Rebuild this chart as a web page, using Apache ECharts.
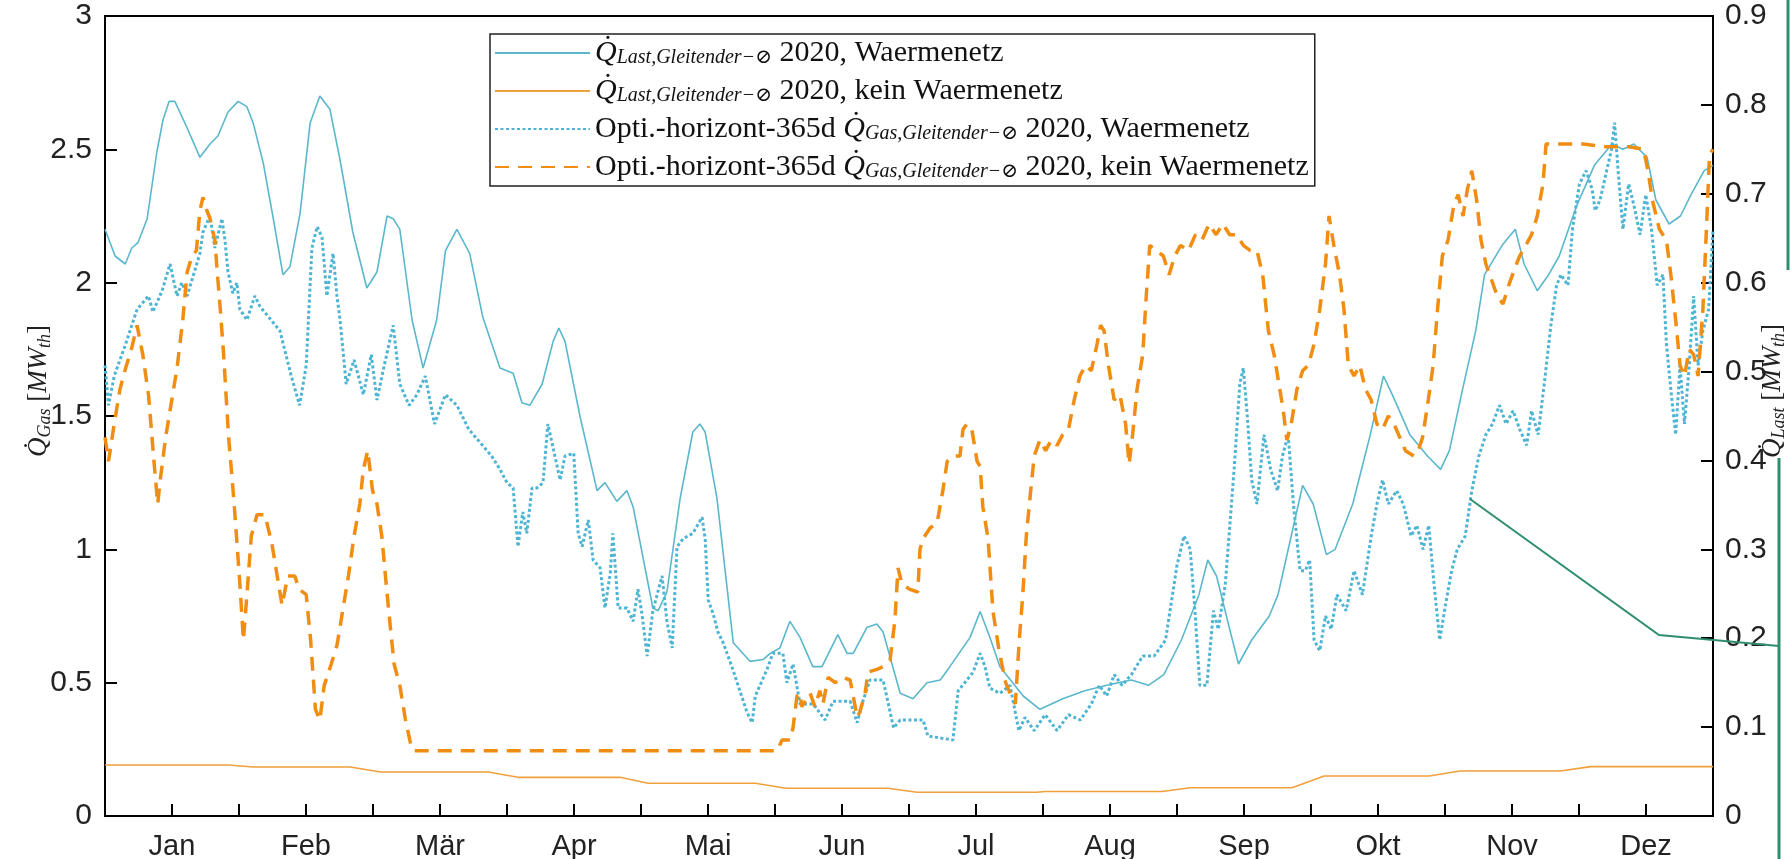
<!DOCTYPE html>
<html>
<head>
<meta charset="utf-8">
<script src="https://cdn.jsdelivr.net/npm/echarts@6/dist/echarts.min.js"></script>
<style>
  html, body { margin: 0; padding: 0; background: #fff; }
  #chart { width: 1792px; height: 859px; }
</style>
</head>
<body>
<div id="chart"></div>
<script>
// x = Tag im Jahr 2020 (0..366), Monatsnamen in der Monatsmitte
const months = ['Jan', 'Feb', 'Mär', 'Apr', 'Mai', 'Jun', 'Jul', 'Aug', 'Sep', 'Okt', 'Nov', 'Dez']
const halfMonth = 15.25

// Q_Last mit Waermenetz [MW] (rechte Achse)
const lastWaermenetz = [
  [0, 0.660], [2.3, 0.630], [4.6, 0.621], [6.1, 0.639], [7.5, 0.645], [9.6, 0.672], [11.8, 0.747],
  [13.2, 0.783], [14.6, 0.804], [15.9, 0.804], [18.7, 0.774], [21.6, 0.741], [23.9, 0.756], [25.7, 0.765],
  [28.0, 0.792], [30.3, 0.804], [32.3, 0.798], [33.7, 0.780], [36.0, 0.735], [38.2, 0.675], [40.5, 0.609],
  [42.1, 0.618], [44.4, 0.678], [46.7, 0.780], [48.9, 0.810], [51.2, 0.795], [53.5, 0.738], [56.4, 0.657],
  [59.6, 0.594], [61.9, 0.612], [64.2, 0.675], [65.6, 0.672], [67.1, 0.660], [69.9, 0.558], [72.4, 0.504],
  [75.5, 0.558], [77.5, 0.636], [80.1, 0.660], [83, 0.633], [86, 0.561], [89.9, 0.504], [92.9, 0.498],
  [94.9, 0.465], [96.7, 0.462], [99.5, 0.486], [102, 0.534], [103.3, 0.549], [104.7, 0.534], [108.1, 0.450],
  [112, 0.366], [113.8, 0.375], [116.5, 0.354], [118.8, 0.366], [120.2, 0.348], [124.7, 0.234], [125.9, 0.231],
  [127.9, 0.252], [130.9, 0.357], [133.8, 0.432], [135.4, 0.441], [136.6, 0.432], [139.3, 0.357], [143, 0.195],
  [146.8, 0.174], [149.8, 0.176], [151.4, 0.183], [153.6, 0.189], [155.9, 0.219], [158.2, 0.201], [161.1, 0.168],
  [163.2, 0.168], [166.8, 0.204], [168.9, 0.183], [170.3, 0.183], [173.4, 0.212], [175.7, 0.216], [177.1, 0.207],
  [181, 0.138], [183.9, 0.132], [187.1, 0.150], [190.1, 0.153], [192.3, 0.168], [196.9, 0.201], [199.2, 0.230],
  [201.4, 0.201], [203.7, 0.168], [209, 0.135], [212.8, 0.120], [218, 0.132], [223, 0.141], [228, 0.147],
  [233.6, 0.153], [237.5, 0.147], [241, 0.159], [245, 0.198], [249, 0.249], [251, 0.288], [253, 0.270],
  [256, 0.210], [258, 0.171], [261, 0.198], [265, 0.225], [267, 0.249], [270, 0.315], [272.6, 0.372],
  [275, 0.351], [278, 0.294], [280, 0.300], [284, 0.351], [288, 0.429], [291, 0.495], [293, 0.474],
  [297, 0.429], [301, 0.405], [304, 0.390], [306, 0.411], [309, 0.480], [312, 0.546], [314, 0.609],
  [318, 0.642], [321, 0.660], [323, 0.621], [326, 0.591], [328.6, 0.609], [331, 0.630], [335, 0.687],
  [339, 0.732], [343, 0.756], [345.5, 0.750], [348, 0.756], [351, 0.741], [353, 0.693], [356, 0.666],
  [358.6, 0.675], [361, 0.699], [364, 0.726], [366, 0.732]
]

// Q_Last ohne Waermenetz [MW] (rechte Achse)
const lastKeinWaermenetz = [
  [0, 0.0573], [28, 0.0573], [33.7, 0.0552], [55.8, 0.0552], [62.8, 0.0495], [87.2, 0.0495],
  [94, 0.0435], [117.2, 0.0435], [123.6, 0.0369], [148, 0.0369], [155, 0.0312], [178.2, 0.0312],
  [184.8, 0.0267], [212, 0.0267], [214, 0.0276], [240.6, 0.0276], [247, 0.0318], [270.2, 0.0318],
  [277.5, 0.045], [301.4, 0.045], [308.4, 0.0507], [331.2, 0.0507], [338.2, 0.0555], [366, 0.0555]
]

// Opti.-horizont-365d Q_Gas mit Waermenetz [MW] (linke Achse)
const gasWaermenetz = [
  [0, 1.69], [0.8, 1.54], [2.1, 1.65], [4.7, 1.77], [7.3, 1.90], [9.9, 1.95], [10.9, 1.89], [13, 1.97],
  [14.8, 2.07], [16.4, 1.95], [17.5, 2.00], [18.7, 1.95], [21.6, 2.11], [22.3, 2.19], [23.9, 2.25],
  [25, 2.13], [26.6, 2.24], [27.3, 2.16], [28, 2.04], [29.1, 1.96], [30, 2.00], [30.7, 1.90], [32.3, 1.86],
  [34.1, 1.95], [35.3, 1.91], [39.8, 1.82], [42.4, 1.65], [44.3, 1.54], [45.8, 1.69], [47.1, 2.13],
  [48.3, 2.21], [49.4, 2.17], [50.5, 1.95], [51.9, 2.11], [52.8, 1.95], [53.5, 1.86], [54.9, 1.62],
  [56.7, 1.71], [58.8, 1.58], [60.6, 1.73], [61.9, 1.56], [63.3, 1.67], [65.6, 1.84], [67.1, 1.62],
  [69.2, 1.54], [71, 1.58], [72.9, 1.65], [75, 1.47], [77.5, 1.58], [80.1, 1.54], [82.8, 1.45],
  [85.4, 1.40], [88, 1.35], [89.9, 1.30], [91.5, 1.25], [92.9, 1.23], [94, 1.01], [95.1, 1.14], [96, 1.06],
  [97.2, 1.23], [98.3, 1.23], [99.7, 1.25], [100.8, 1.47], [102, 1.38], [103.6, 1.26], [104.7, 1.35],
  [106.7, 1.36], [107.7, 1.06], [108.6, 1.01], [110, 1.11], [111.1, 0.96], [112.7, 0.93], [113.8, 0.78],
  [115, 0.91], [115.6, 1.06], [116.8, 0.78], [118.8, 0.78], [120.2, 0.73], [121.3, 0.85], [122.2, 0.76],
  [123.4, 0.60], [124.7, 0.77], [126.8, 0.90], [127.9, 0.73], [129.1, 0.63], [130.2, 1.01], [131.6, 1.04],
  [133.8, 1.06], [135.9, 1.12], [136.6, 1.04], [137.3, 0.81], [138.4, 0.76], [139.5, 0.69], [140.7, 0.65],
  [142.9, 0.55], [144.5, 0.47], [146.1, 0.39], [147.3, 0.35], [148, 0.45], [150.7, 0.55], [152, 0.61],
  [154.3, 0.61], [155.2, 0.50], [156.6, 0.57], [158.2, 0.42], [161.2, 0.42], [163.9, 0.36], [165.7, 0.43],
  [169.6, 0.43], [171.2, 0.35], [172.5, 0.43], [174.1, 0.51], [177.1, 0.51], [179.5, 0.33], [181, 0.36],
  [186.2, 0.36], [187.3, 0.30], [193, 0.285], [194.2, 0.47], [196.2, 0.51], [197.6, 0.54], [199.2, 0.61],
  [200.3, 0.56], [201.4, 0.48], [203.7, 0.46], [206, 0.49], [208, 0.32], [209.4, 0.37], [211.5, 0.32],
  [214, 0.38], [216.7, 0.32], [219.3, 0.38], [222, 0.36], [224.5, 0.42], [226.3, 0.49], [228, 0.45],
  [229.7, 0.53], [231.5, 0.49], [233.6, 0.53], [236.2, 0.60], [238.8, 0.60], [241.4, 0.66], [244, 0.94],
  [245.6, 1.05], [247, 1.00], [248, 0.79], [249.2, 0.49], [250.8, 0.49], [252.3, 0.77], [253.4, 0.70],
  [255, 0.87], [257, 1.30], [258.3, 1.62], [259.1, 1.68], [260, 1.50], [261, 1.26], [262.2, 1.17],
  [263.8, 1.43], [265.3, 1.30], [266.9, 1.22], [268, 1.35], [269.3, 1.43], [270.5, 1.17], [272, 0.92],
  [273.2, 0.92], [274.2, 0.96], [275.2, 0.66], [276.5, 0.62], [277.8, 0.75], [279.1, 0.70], [280.4, 0.83],
  [282.5, 0.77], [284.3, 0.92], [286.2, 0.83], [288.2, 1.05], [289.5, 1.17], [290.8, 1.26], [292.1, 1.17],
  [294, 1.22], [295.5, 1.17], [297.3, 1.05], [298.6, 1.09], [300, 1.00], [301.3, 1.09], [302.5, 0.87],
  [303.8, 0.66], [305.1, 0.79], [306.5, 0.92], [307.8, 1.00], [309.6, 1.05], [311.1, 1.22], [312.7, 1.35],
  [314.3, 1.43], [315.8, 1.47], [317.4, 1.54], [318.9, 1.47], [320.5, 1.52], [322, 1.45], [323.6, 1.39],
  [324.7, 1.52], [326.2, 1.43], [327.8, 1.65], [329.1, 1.84], [330.4, 1.99], [331.4, 2.03], [333, 1.99],
  [334, 2.20], [335.6, 2.37], [337.1, 2.42], [338.5, 2.35], [339.2, 2.27], [340.3, 2.31], [341.8, 2.42],
  [342.9, 2.50], [343.6, 2.60], [344.4, 2.42], [345.5, 2.20], [346.8, 2.37], [348, 2.29], [349.4, 2.18],
  [350.7, 2.33], [352, 2.20], [353.3, 1.99], [354.6, 2.03], [355.4, 1.77], [356.4, 1.60], [357.5, 1.43],
  [358.5, 1.69], [359.5, 1.47], [360.6, 1.69], [361.6, 1.95], [362.6, 1.69], [363.7, 1.82], [365, 1.90],
  [366, 2.20]
]

// Opti.-horizont-365d Q_Gas ohne Waermenetz [MW] (linke Achse)
const gasKeinWaermenetz = [
  [0, 1.42], [0.8, 1.33], [2.1, 1.47], [3.4, 1.60], [4.7, 1.68], [6.0, 1.75], [7.3, 1.84], [8.6, 1.73],
  [9.9, 1.58], [11.2, 1.32], [12.0, 1.17], [12.5, 1.25], [13.8, 1.42], [15.1, 1.55], [16.4, 1.68],
  [17.7, 1.86], [18.7, 2.04], [19.8, 2.10], [20.8, 2.12], [21.6, 2.27], [22.3, 2.32], [23.2, 2.27],
  [23.9, 2.24], [25.0, 2.16], [25.7, 2.01], [26.2, 1.91], [27, 1.73], [28.1, 1.43], [29.4, 1.17],
  [30.7, 0.87], [31.5, 0.66], [32.3, 0.83], [33.3, 1.05], [34.6, 1.13], [36.4, 1.13], [38.0, 1.02],
  [39.0, 0.92], [40.3, 0.79], [41.6, 0.90], [43.2, 0.90], [44.2, 0.85], [45.8, 0.83], [46.8, 0.66],
  [47.9, 0.40], [48.9, 0.36], [49.9, 0.49], [51.5, 0.57], [52.8, 0.64], [54.1, 0.77], [55.4, 0.90],
  [56.7, 1.05], [58.0, 1.17], [58.8, 1.30], [59.8, 1.37], [60.9, 1.22], [61.9, 1.17], [63.0, 1.05],
  [64.0, 0.87], [65.0, 0.70], [65.8, 0.57], [67.1, 0.49], [68.4, 0.36], [69.7, 0.26], [70.2, 0.245],
  [153, 0.245], [154.1, 0.285], [155.9, 0.285], [156.6, 0.33], [157.5, 0.45], [158.2, 0.46], [158.6, 0.41],
  [160.5, 0.46], [161.6, 0.41], [162.7, 0.47], [163.4, 0.42], [164.6, 0.52], [166.2, 0.50], [168, 0.52],
  [169.6, 0.51], [170.3, 0.45], [171.2, 0.37], [171.8, 0.39], [173, 0.46], [173.7, 0.54], [175.7, 0.55],
  [177.1, 0.56], [178.7, 0.585], [179.8, 0.735], [180.5, 0.93], [181.4, 0.87], [183.2, 0.85], [185, 0.84],
  [185.5, 1.00], [186.2, 1.04], [187.8, 1.08], [189.4, 1.10], [190.7, 1.22], [191.7, 1.33], [193, 1.35],
  [194.6, 1.35], [195.3, 1.45], [196.2, 1.47], [197.3, 1.45], [198.5, 1.33], [199.2, 1.31], [199.8, 1.16],
  [201, 1.04], [202.1, 0.77], [203.5, 0.62], [205, 0.50], [206.5, 0.44], [207.2, 0.42], [208.1, 0.66],
  [208.9, 0.83], [209.7, 1.05], [210.7, 1.22], [211.5, 1.35], [212.8, 1.41], [214.1, 1.37], [215.4, 1.41],
  [216.7, 1.39], [218, 1.43], [219.3, 1.45], [220.6, 1.56], [221.9, 1.65], [223.2, 1.69], [224.5, 1.67],
  [225.8, 1.77], [226.6, 1.84], [227.4, 1.82], [228.4, 1.69], [229.7, 1.56], [231, 1.58], [232.3, 1.47],
  [233.1, 1.32], [233.9, 1.43], [234.9, 1.60], [236.2, 1.73], [237, 1.95], [237.8, 2.14], [239.3, 2.12],
  [240.9, 2.10], [242.2, 2.03], [243.5, 2.10], [244.8, 2.14], [246.6, 2.12], [248.2, 2.18], [249.7, 2.16],
  [251.3, 2.22], [252.9, 2.18], [254.4, 2.22], [256, 2.18], [257.5, 2.18], [259.1, 2.14], [260.7, 2.12],
  [262.2, 2.12], [263.5, 2.03], [264.8, 1.82], [266.1, 1.73], [267.4, 1.60], [268.2, 1.52], [269, 1.41],
  [270, 1.47], [271.3, 1.60], [272.6, 1.67], [273.9, 1.69], [275.2, 1.77], [276.5, 1.90], [277.8, 2.07],
  [278.6, 2.25], [279.7, 2.14], [281, 2.03], [282, 1.90], [283, 1.69], [284.3, 1.65], [285.6, 1.69],
  [286.9, 1.60], [288.2, 1.56], [289.5, 1.47], [290.8, 1.45], [292.1, 1.50], [293.4, 1.47], [294.7, 1.42],
  [296, 1.37], [297.9, 1.35], [298.9, 1.37], [299.9, 1.42], [301.2, 1.56], [302.3, 1.69], [303.3, 1.90],
  [304.4, 2.10], [305.7, 2.16], [307, 2.29], [308, 2.33], [309.1, 2.25], [310.1, 2.35], [311.1, 2.42],
  [312.2, 2.31], [313.2, 2.16], [314.3, 2.07], [315.6, 2.01], [316.9, 1.95], [318.2, 1.92], [319.5, 1.99],
  [320.8, 2.05], [322, 2.10], [323.4, 2.14], [324.7, 2.18], [326, 2.25], [327.3, 2.37], [328, 2.52],
  [331.2, 2.52], [336.4, 2.52], [341.6, 2.51], [346.8, 2.51], [350.2, 2.50], [351.2, 2.42], [352.2, 2.31],
  [353.8, 2.20], [355.4, 2.16], [356.4, 2.03], [357.5, 1.86], [358.5, 1.69], [359.5, 1.65], [360.6, 1.75],
  [361.6, 1.73], [362.6, 1.65], [363.7, 1.90], [364.5, 2.20], [365.2, 2.48], [366, 2.50]
]

const seriesNames = ['lastWn', 'lastKein', 'gasWn', 'gasKein']
const legendLabels = {
  lastWn: '{q|Q̇}{s|Last,Gleitender−⊘} 2020, Waermenetz',
  lastKein: '{q|Q̇}{s|Last,Gleitender−⊘} 2020, kein Waermenetz',
  gasWn: 'Opti.-horizont-365d {q|Q̇}{s|Gas,Gleitender−⊘} 2020, Waermenetz',
  gasKein: 'Opti.-horizont-365d {q|Q̇}{s|Gas,Gleitender−⊘} 2020, kein Waermenetz'
}

const serif = '"Liberation Serif", "DejaVu Serif", serif'
const tickFont = '"Liberation Sans", Arial, sans-serif'
const legendRich = {
  q: { fontFamily: serif, fontStyle: 'italic', fontSize: 30, lineHeight: 30 },
  s: { fontFamily: serif, fontStyle: 'italic', fontSize: 20, lineHeight: 30, verticalAlign: 'bottom' }
}
const nameRich = {
  q: { fontFamily: serif, fontStyle: 'italic', fontSize: 27, lineHeight: 30 },
  s: { fontFamily: serif, fontStyle: 'italic', fontSize: 18, lineHeight: 30, verticalAlign: 'bottom' },
  t: { fontFamily: serif, fontSize: 27, lineHeight: 30 },
  i: { fontFamily: serif, fontStyle: 'italic', fontSize: 27, lineHeight: 30 }
}

const chart = echarts.init(document.getElementById('chart'))

chart.setOption({
  animation: false,
  backgroundColor: '#fff',
  grid: {
    left: 105, right: 79, top: 16, bottom: 43,
    outerBoundsMode: 'none',
    containLabel: false,
    show: true, borderColor: '#000', borderWidth: 2, backgroundColor: 'transparent'
  },
  legend: {
    data: seriesNames,
    orient: 'vertical',
    left: 490,
    top: 34,
    backgroundColor: '#fff',
    borderColor: '#222',
    borderWidth: 1.5,
    borderRadius: 0,
    padding: [4, 6, 4, 4],
    itemWidth: 95,
    itemHeight: 14,
    itemGap: 8,
    itemStyle: { opacity: 0 },
    formatter: name => legendLabels[name],
    textStyle: { fontFamily: serif, fontSize: 30, color: '#111', lineHeight: 30, rich: legendRich }
  },
  xAxis: {
    type: 'value',
    min: 0,
    max: 366,
    interval: halfMonth,
    axisLine: { lineStyle: { color: '#000', width: 2 } },
    axisTick: { inside: true, length: 12, lineStyle: { color: '#000', width: 2 } },
    splitLine: { show: false },
    axisLabel: {
      margin: 16,
      fontFamily: tickFont,
      fontSize: 29,
      color: '#222',
      formatter: v => {
        const k = Math.round(v / halfMonth)
        return k % 2 === 1 ? months[(k - 1) / 2] : ''
      }
    }
  },
  yAxis: [
    {
      type: 'value',
      min: 0,
      max: 3,
      interval: 0.5,
      axisLine: { show: true, lineStyle: { color: '#000', width: 2 } },
      axisTick: { show: true, inside: true, length: 12, lineStyle: { color: '#000', width: 2 } },
      splitLine: { show: false },
      axisLabel: { margin: 13, fontFamily: tickFont, fontSize: 30, color: '#222' },
      name: '{q|Q̇}{s|Gas} {t|[}{i|MW}{s|th}{t|]}',
      nameLocation: 'middle',
      nameRotate: 90,
      nameGap: 51,
      nameMoveOverlap: false,
      nameTextStyle: { fontFamily: serif, fontSize: 27, color: '#222', padding: [0, 0, 0, 50], rich: nameRich }
    },
    {
      type: 'value',
      min: 0,
      max: 0.9,
      interval: 0.1,
      position: 'right',
      axisLine: { show: true, lineStyle: { color: '#000', width: 2 } },
      axisTick: { show: true, inside: true, length: 12, lineStyle: { color: '#000', width: 2 } },
      splitLine: { show: false },
      axisLabel: { margin: 12, fontFamily: tickFont, fontSize: 30, color: '#222' },
      name: '{q|Q̇}{s|Last} {t|[}{i|MW}{s|th}{t|]}',
      nameLocation: 'middle',
      nameRotate: 90,
      nameGap: 45,
      nameMoveOverlap: false,
      nameTextStyle: { fontFamily: serif, fontSize: 27, color: '#222', padding: [0, 0, 0, 50], rich: nameRich }
    }
  ],
  series: [
    {
      name: 'lastWn', type: 'line', yAxisIndex: 1, data: lastWaermenetz,
      showSymbol: false, symbol: 'none', color: '#5BB7CB',
      lineStyle: { width: 1.6, color: '#5BB7CB' }
    },
    {
      name: 'lastKein', type: 'line', yAxisIndex: 1, data: lastKeinWaermenetz,
      showSymbol: false, symbol: 'none', color: '#F0A03C',
      lineStyle: { width: 1.6, color: '#F0A03C' }
    },
    {
      name: 'gasWn', type: 'line', yAxisIndex: 0, data: gasWaermenetz,
      showSymbol: false, symbol: 'none', color: '#4DB5D3',
      lineStyle: { width: 3, color: '#4DB5D3', type: [3, 2.5] }
    },
    {
      name: 'gasKein', type: 'line', yAxisIndex: 0, data: gasKeinWaermenetz,
      showSymbol: false, symbol: 'none', color: '#F08D12',
      lineStyle: { width: 3.5, color: '#F08D12', type: [14, 9] }
    }
  ],
  // gruene Markierungslinien aus der Vorlage (Bildannotation)
  graphic: [
    { type: 'polyline', shape: { points: [[1470, 499], [1659, 635], [1779, 646]] }, style: { stroke: '#2E8E6E', lineWidth: 2, fill: null }, z: 100 },
    { type: 'line', shape: { x1: 1788, y1: 0, x2: 1788, y2: 270 }, style: { stroke: '#2E8E6E', lineWidth: 3 }, z: 100 },
    { type: 'line', shape: { x1: 1779, y1: 458, x2: 1779, y2: 859 }, style: { stroke: '#2E8E6E', lineWidth: 3 }, z: 100 }
  ]
})
</script>
</body>
</html>
